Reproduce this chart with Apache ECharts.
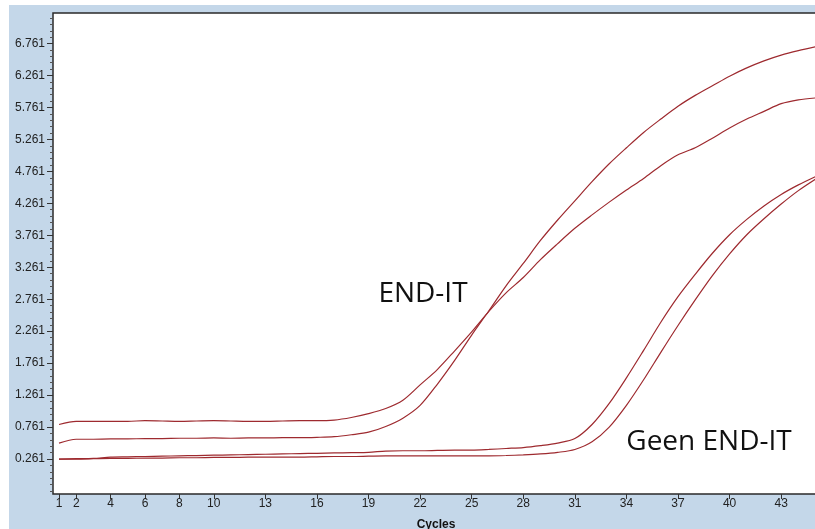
<!DOCTYPE html>
<html>
<head>
<meta charset="utf-8">
<script src="https://cdn.jsdelivr.net/npm/echarts@6/dist/echarts.min.js"></script>
<style>
html,body{margin:0;padding:0;background:#fff;}
#chart{width:815px;height:529px;}
</style>
</head>
<body>
<div id="chart"></div>
<script>
const cycles = [1,2,3,4,5,6,7,8,9,10,11,12,13,14,15,16,17,18,19,20,21,22,23,24,25,26,27,28,29,30,31,32,33,34,35,36,37,38,39,40,41,42,43,44,45];

const endItA = [0.80,0.85,0.85,0.85,0.85,0.86,0.855,0.85,0.855,0.86,0.855,0.85,0.85,0.855,0.86,0.86,0.87,0.91,0.97,1.05,1.18,1.42,1.66,1.95,2.25,2.57,2.86,3.10,3.38,3.63,3.87,4.08,4.28,4.47,4.65,4.85,5.02,5.13,5.28,5.44,5.58,5.70,5.82,5.88,5.91];

const endItB = [0.51,0.57,0.57,0.575,0.575,0.58,0.58,0.585,0.585,0.59,0.585,0.59,0.59,0.595,0.595,0.60,0.61,0.64,0.68,0.77,0.90,1.10,1.43,1.80,2.20,2.58,2.97,3.32,3.68,4.00,4.30,4.60,4.88,5.13,5.37,5.58,5.78,5.95,6.10,6.25,6.38,6.49,6.58,6.65,6.71];

const geenC = [0.26,0.265,0.27,0.29,0.295,0.30,0.305,0.31,0.315,0.32,0.325,0.33,0.335,0.34,0.345,0.35,0.355,0.36,0.365,0.385,0.39,0.39,0.395,0.40,0.40,0.41,0.425,0.44,0.47,0.51,0.58,0.80,1.13,1.53,1.96,2.40,2.80,3.15,3.48,3.77,4.01,4.22,4.40,4.55,4.68];

const geenD = [0.26,0.26,0.265,0.27,0.27,0.275,0.275,0.28,0.28,0.285,0.285,0.29,0.29,0.29,0.29,0.295,0.30,0.30,0.305,0.31,0.31,0.31,0.31,0.31,0.31,0.31,0.315,0.325,0.34,0.365,0.41,0.53,0.76,1.10,1.50,1.93,2.35,2.75,3.13,3.47,3.77,4.02,4.25,4.46,4.64];

const xTickLabels = [1,2,4,6,8,10,13,16,19,22,25,28,31,34,37,40,43];
const yTickLabels = [0.261,0.761,1.261,1.761,2.261,2.761,3.261,3.761,4.261,4.761,5.261,5.761,6.261,6.761];

const yMinor = [];
[-0.239].concat(yTickLabels).forEach(function(v){
  for (let k = 1; k <= 4; k++) {
    const m = +(v + k * 0.1).toFixed(3);
    if (m < 7.2) yMinor.push(m);
  }
});
yMinor.unshift(-0.239);

function pairs(ys){ return cycles.map(function(c,i){ return [c, ys[i]]; }); }

const lineColor = '#9e2a2f';
function mkSeries(name, ys){
  return {
    name: name, type: 'line', data: pairs(ys), showSymbol: false, smooth: 0.3,
    yAxisIndex: 0,
    lineStyle: { color: lineColor, width: 1.2 }, itemStyle: { color: lineColor },
    z: 5
  };
}

const chart = echarts.init(document.getElementById('chart'), null, {renderer: 'canvas'});
const option = {
  animation: false,
  backgroundColor: '#c4d7e9',
  grid: { left: 53, top: 13, width: 766, height: 481, show: true, backgroundColor: '#ffffff', borderColor: '#2a2a2a', borderWidth: 1.5, containLabel: false, outerBoundsMode: 'none' },
  xAxis: {
    type: 'value', min: 0.65, max: 45.2,
    splitLine: { show: false },
    axisLine: { show: false, onZero: false },
    axisTick: { show: true, length: 5, lineStyle: { color: '#333' }, customValues: xTickLabels },
    axisLabel: { customValues: xTickLabels, color: '#222', fontSize: 12, fontFamily: 'Liberation Sans, Arial, sans-serif', margin: 4 },
    name: 'Cycles', nameLocation: 'middle', nameGap: 25,
    nameTextStyle: { fontWeight: 'bold', fontSize: 12, color: '#111', fontFamily: 'Liberation Sans, Arial, sans-serif' }
  },
  yAxis: [
    {
      type: 'value', min: -0.287, max: 7.239, position: 'left',
      splitLine: { show: false },
      axisLine: { show: false, onZero: false },
      axisTick: { show: true, length: 6, lineStyle: { color: '#333' }, customValues: yTickLabels },
      axisLabel: { customValues: yTickLabels, color: '#222', fontSize: 12, fontFamily: 'Liberation Sans, Arial, sans-serif', margin: 8,
        formatter: function(v){ return (+v).toFixed(3); } }
    },
    {
      type: 'value', min: -0.287, max: 7.239, position: 'left', offset: 0,
      splitLine: { show: false },
      axisLine: { show: false, onZero: false },
      axisTick: { show: true, length: 3, lineStyle: { color: '#555' }, customValues: yMinor },
      axisLabel: { show: false }
    }
  ],
  series: [
    mkSeries('END-IT A', endItA),
    mkSeries('END-IT B', endItB),
    mkSeries('Geen END-IT C', geenC),
    mkSeries('Geen END-IT D', geenD)
  ],
  graphic: [
    { type: 'rect', left: 0, top: 0, shape: { width: 815, height: 5 }, style: { fill: '#ffffff' }, silent: true },
    { type: 'rect', left: 0, top: 0, shape: { width: 9, height: 529 }, style: { fill: '#ffffff' }, silent: true },
    { type: 'text', x: 423, y: 294, z: 10, style: { text: 'END-IT', font: '28px "Open Sans"', fill: '#111', align: 'center', verticalAlign: 'middle' } },
    { type: 'text', x: 709, y: 442, z: 10, style: { text: 'Geen END-IT', font: '28px "Open Sans"', fill: '#111', align: 'center', verticalAlign: 'middle' } }
  ]
};
chart.setOption(option);
</script>
</body>
</html>
